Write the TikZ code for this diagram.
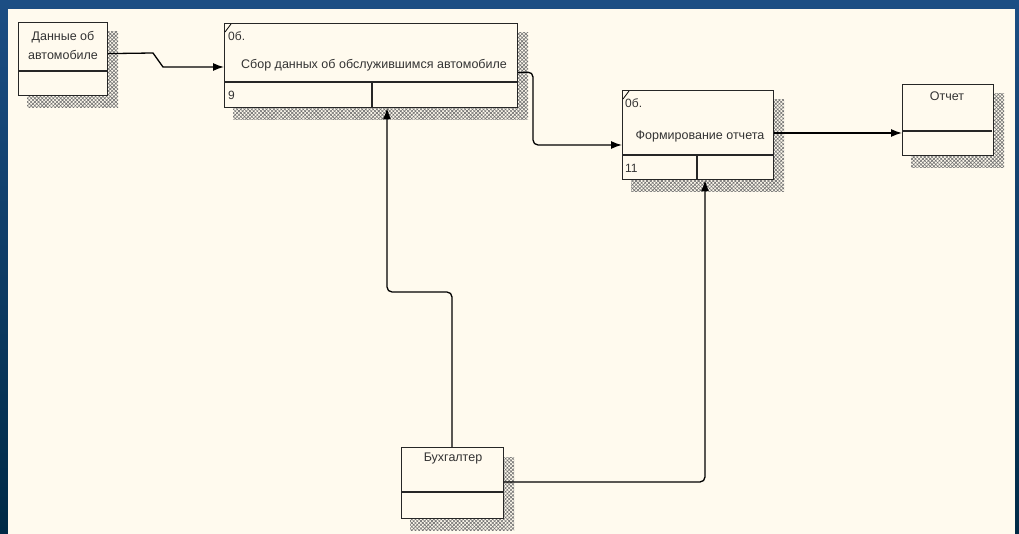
\documentclass[tikz,border=0pt]{standalone}
\usepackage{fontspec}
\setmainfont{Liberation Sans}
\usetikzlibrary{patterns.meta,arrows.meta,calc}
\definecolor{panel}{RGB}{255,250,238}
\definecolor{bgtop}{RGB}{28,78,132}
\definecolor{bgbot}{RGB}{0,42,70}
\pgfdeclarelayer{back}
\pgfdeclarelayer{shadow}
\pgfsetlayers{back,shadow,main}
\begin{document}
\begin{tikzpicture}[x=1pt,y=-1pt,
  box/.style={draw=black!85, line width=1.2pt, fill=panel, rectangle, inner sep=0pt, anchor=north west},
  shadowbox/.style={pattern={Hatch[angle=45,distance=2.6pt,line width=0.6pt]}, pattern color=black!55},
  divider/.style={draw=black!85, line width=1.1pt},
  conn/.style={draw=black, line width=1.3pt, rounded corners=5pt},
  arr/.style={-{Latex[length=11pt,width=8pt]}},
  lbl/.style={font=\fontsize{12.5}{19}\selectfont, text=black!80, inner sep=0pt},
  num/.style={font=\fontsize{12}{14}\selectfont, text=black!80, inner sep=0pt},
]
\begin{pgfonlayer}{back}
  \shade[top color=bgtop, bottom color=bgbot] (0,0) rectangle (1019,534);
  \fill[panel] (8,9) rectangle (1015,534);
\end{pgfonlayer}
\useasboundingbox (0,0) rectangle (1019,534);

% --- Данные об автомобиле
\node[box, minimum width=89pt, minimum height=73pt] (D) at (18,22) {};
\draw[divider] (D.west |- 0,71) -- (D.east |- 0,71);
\node[lbl, align=center] (Dt) at (63,45) {Данные об\\автомобиле};

% --- A: Сбор данных
\node[box, minimum width=293pt, minimum height=84pt] (A) at (224,23) {};
\draw[divider] (A.west |- 0,82) -- (A.east |- 0,82);
\draw[divider] (372,82) -- (A.south -| 372,0);
\draw[line width=0.8pt] ([shift={(1,9)}]A.north west) -- ([shift={(7,1)}]A.north west);
\node[num, anchor=west] (Ac) at (228,36) {0б.};
\node[lbl] (At) at (374,65) {Сбор данных об обслужившимся автомобиле};
\node[num, anchor=west] (An) at (228,95) {9};

% --- B: Формирование отчета
\node[box, minimum width=151pt, minimum height=89pt] (B) at (622,90) {};
\draw[divider] (B.west |- 0,155) -- (B.east |- 0,155);
\draw[divider] (697,155) -- (B.south -| 697,0);
\draw[line width=0.8pt] ([shift={(1,9)}]B.north west) -- ([shift={(7,1)}]B.north west);
\node[num, anchor=west] (Bc) at (625,103) {0б.};
\node[lbl] (Bt) at (700,136) {Формирование отчета};
\node[num, anchor=west] (Bn) at (625,168) {11};

% --- Отчет
\node[box, minimum width=91pt, minimum height=71pt] (R) at (902,84) {};
\draw[divider] (R.west |- 0,131) -- ([xshift=-2pt]R.east |- 0,131);
\node[lbl] (Rt) at (947,96) {Отчет};

% --- Бухгалтер
\node[box, minimum width=102pt, minimum height=71pt] (H) at (401,447) {};
\draw[divider] (H.west |- 0,492) -- (H.east |- 0,492);
\node[lbl] (Ht) at (453,458) {Бухгалтер};

% --- shadows
\begin{pgfonlayer}{shadow}
  \foreach \n in {D,A,B,R,H}{
    \fill[shadowbox] ([shift={(9,10)}]\n.north west) rectangle ([shift={(10,11)}]\n.south east);
  }
\end{pgfonlayer}

% --- connectors
\draw[conn, rounded corners=0pt, arr] ([yshift=5.5pt]D.east) -- (153,53) -- (163,67) -- (A.west |- 0,67);
\draw[conn, arr] ([yshift=-7pt]A.east) -- (533,72) -- (533,145) -- (B.west |- 0,145);
\draw[conn, arr] (B.east |- 0,133) -- (R.west |- 0,133);
\draw[conn, arr] (H.north -| 452,0) -- (452,292) -- (387,292) -- (A.south -| 387,0);
\draw[conn, arr] (H.east |- 0,482) -- (705,482) -- (B.south -| 705,0);
\end{tikzpicture}
\end{document}
